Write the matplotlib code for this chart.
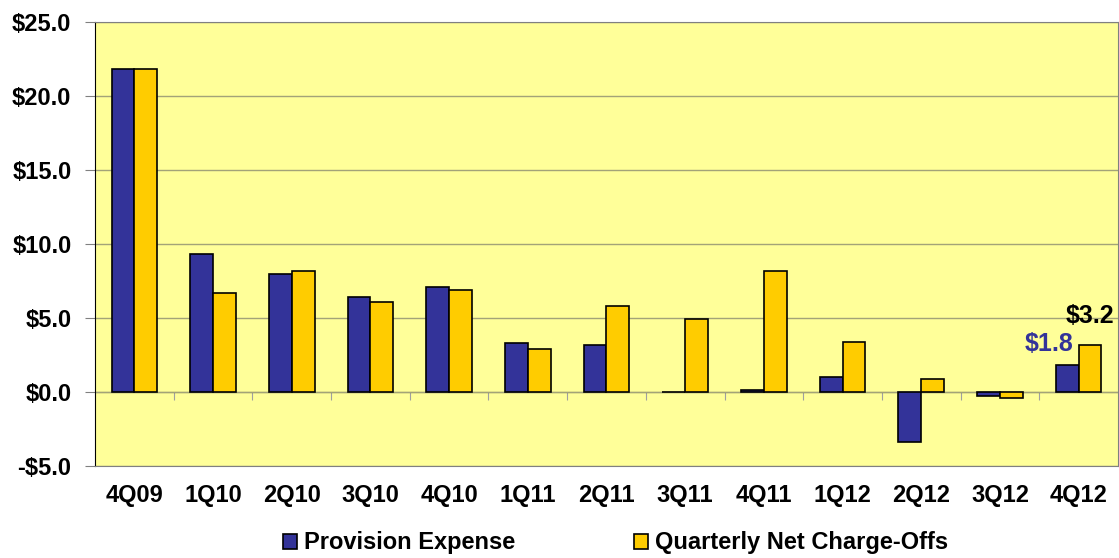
import matplotlib.pyplot as plt
import numpy as np

plt.rcParams["font.family"] = ["Liberation Sans", "DejaVu Sans"]
plt.rcParams["font.weight"] = "bold"

# データ
quarters = ["4Q09", "1Q10", "2Q10", "3Q10", "4Q10", "1Q11", "2Q11",
            "3Q11", "4Q11", "1Q12", "2Q12", "3Q12", "4Q12"]
provision = [21.8, 9.3, 8.0, 6.4, 7.1, 3.3, 3.2, 0.0, 0.1, 1.0, -3.4, -0.3, 1.8]
net_charge_offs = [21.8, 6.7, 8.2, 6.1, 6.9, 2.9, 5.8, 4.9, 8.2, 3.4, 0.9, -0.4, 3.2]

blue = "#333399"
yellow = "#FFCC00"

fig = plt.figure(figsize=(11.19, 5.58), dpi=100)
ax = fig.add_axes([0.0849, 0.165, 0.9142, 0.7956])
ax.set_facecolor("#FFFF99")

x = np.arange(len(quarters))
w = 0.29
ax.bar(x - w / 2, provision, w, color=blue, edgecolor="black", linewidth=1.2,
       label="Provision Expense", zorder=3)
ax.bar(x + w / 2, net_charge_offs, w, color=yellow, edgecolor="black", linewidth=1.2,
       label="Quarterly Net Charge-Offs", zorder=3)

ax.set_xlim(-0.5, len(quarters) - 0.5)
ax.set_ylim(-5, 25)
ax.set_yticks([-5, 0, 5, 10, 15, 20, 25])
ax.yaxis.set_major_formatter(plt.FuncFormatter(
    lambda v, pos: f"-${abs(v):.1f}" if v < 0 else f"${v:.1f}"))
ax.grid(True, axis="y", color="#A3A378", linewidth=1, zorder=0)
ax.tick_params(axis="y", direction="out", length=7, color="#808080", pad=10,
               labelsize=17)
ax.set_xticks(x)
ax.set_xticklabels(quarters)
ax.tick_params(axis="x", length=0, pad=13, labelsize=17)

for s in ["top", "right", "bottom"]:
    ax.spines[s].set_color("#808080")
ax.spines["left"].set_color("black")

# ゼロ線（区切りの目盛り付き）
zero = ax.secondary_xaxis(5 / 30)
zero.set_xticks(x[:-1] + 0.5)
zero.set_xticklabels([])
zero.tick_params(axis="x", direction="out", length=6, color="#A0A0A0")
zero.spines["bottom"].set_color("black")
zero.spines["bottom"].set_zorder(4)

# 最新四半期のラベル
last = len(quarters) - 1
ax.annotate(f"${provision[last]:.1f}", (x[last] - w / 2, provision[last]),
            xytext=(-13, 7), textcoords="offset points", ha="center",
            va="bottom", color=blue, fontsize=18, fontweight="bold")
ax.annotate(f"${net_charge_offs[last]:.1f}", (x[last] + w / 2, net_charge_offs[last]),
            xytext=(0, 12), textcoords="offset points", ha="center",
            va="bottom", color="black", fontsize=18, fontweight="bold")

fig.legend(loc="center", bbox_to_anchor=(0.55, 0.027), ncol=2, frameon=False,
           fontsize=17, handlelength=0.6, handleheight=0.6, handletextpad=0.3,
           columnspacing=5.0)

plt.savefig("out.png", dpi=100)
